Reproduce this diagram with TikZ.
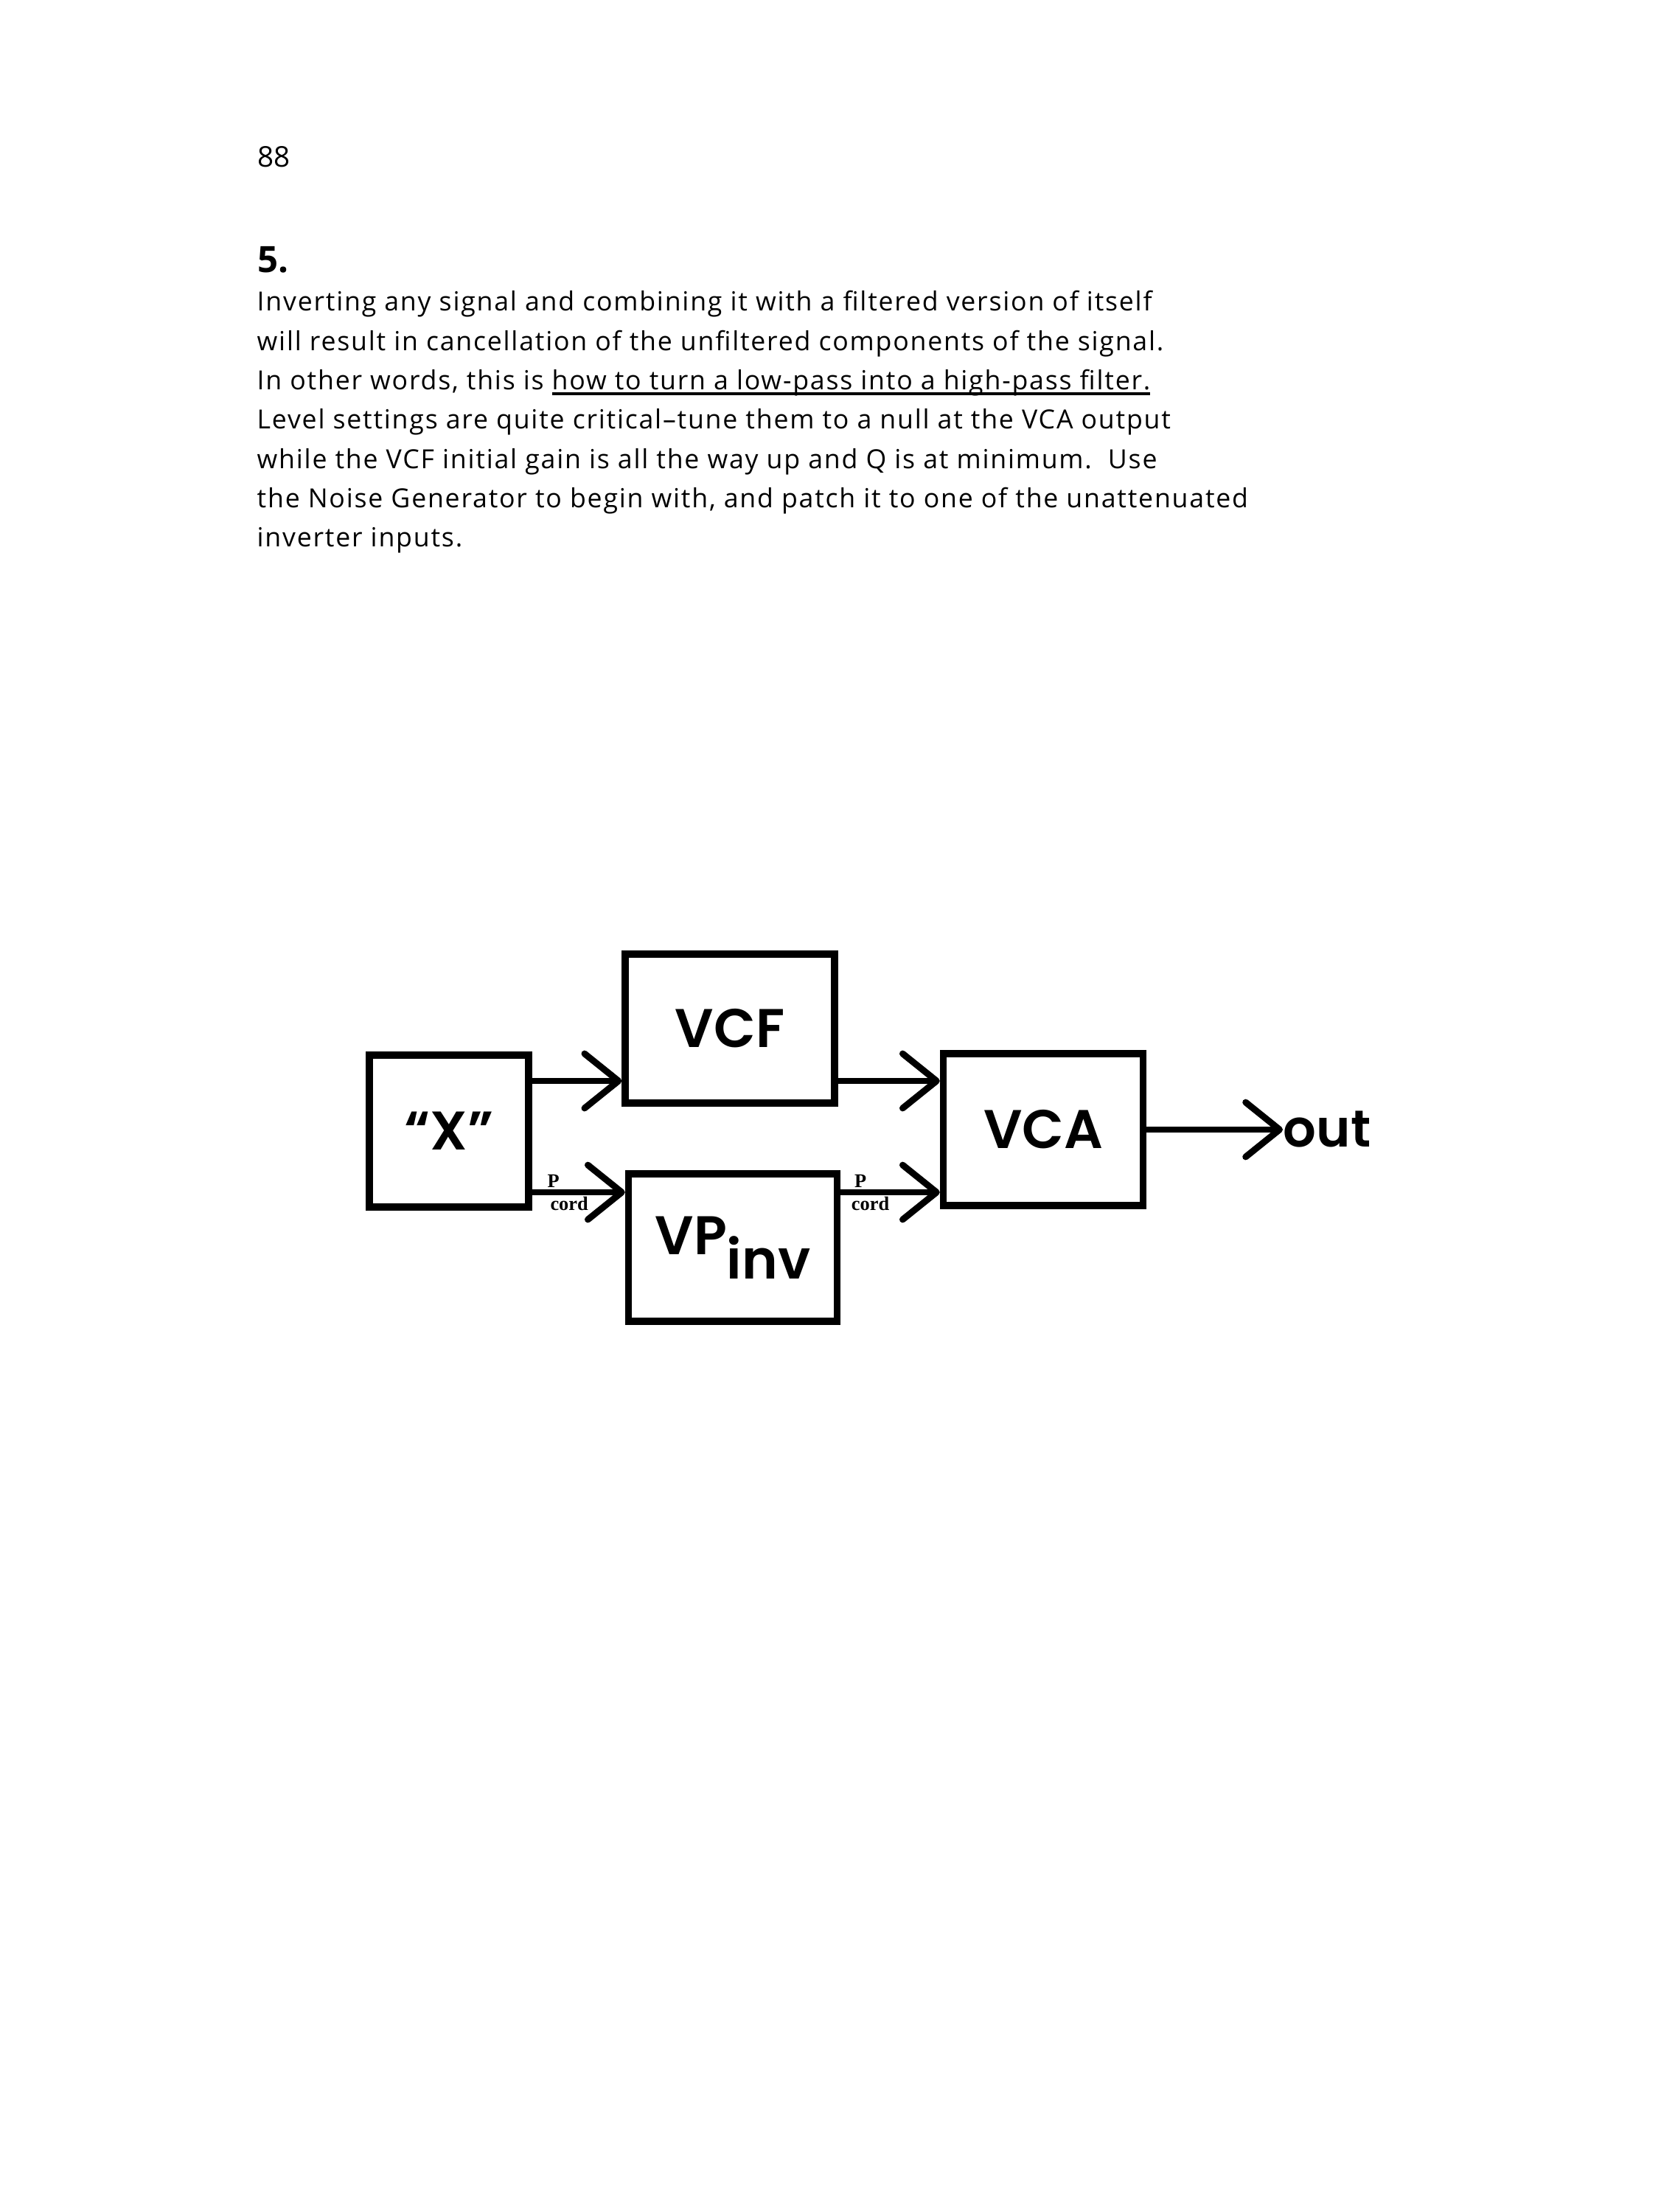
\documentclass[tikz,border=0pt]{standalone}
\usepackage{fontspec}
\setmainfont{Open Sans}
\newfontfamily\bodyfont{Open Sans}[LetterSpace=5]
\newfontfamily\handfont{Poppins}[BoldFont={Poppins SemiBold}]
\newfontfamily\cordfont{Liberation Serif}
\usepackage{tikz}
\usetikzlibrary{arrows.meta}
\newcommand{\ulinetext}[1]{\setbox0\hbox{#1}\rlap{\rule[-2.1pt]{\wd0}{1pt}}\box0}

\begin{document}
\begin{tikzpicture}[
    box/.style={draw, line width=2.7pt, inner sep=0pt, font=\handfont\bfseries\fontsize{21}{24}\selectfont},
    patch/.style={line width=2.5pt, -{Straight Barb[length=4.6mm, width=7.4mm, round]}},
    cordlbl/.style={font=\cordfont\bfseries\fontsize{7.5}{8}\selectfont, inner sep=0.6pt},
    body/.style={anchor=base west, inner sep=0pt, font=\bodyfont\fontsize{10.15}{11}\selectfont}
]
    % Page
    \useasboundingbox (0,0) rectangle (22.52,-30);

    % Page number and item number
    \node[anchor=base west, inner sep=0pt, font=\fontsize{11}{13}\selectfont] (pagenum) at (3.49,-2.27) {88};
    \node[anchor=base west, inner sep=0pt, font=\bfseries\fontsize{14}{15}\selectfont] (itemnum) at (3.49,-3.70) {5.};

    % Body text
    \foreach \i/\txt in {
        1/{Inverting any signal and combining it with a filtered version of itself},
        2/{will result in cancellation of the unfiltered components of the signal.},
        3/{In other words, this is \ulinetext{how to turn a low-pass into a high-pass filter.}},
        4/{Level settings are quite critical–tune them to a null at the VCA output},
        5/{while the VCF initial gain is all the way up and Q is at minimum.\ \ Use},
        6/{the Noise Generator to begin with, and patch it to one of the unattenuated},
        7/{inverter inputs.}} {
        \node[body] (line\i) at (3.48,{-4.22-0.533*(\i-1)}) {\txt};
    }

    % Modules
    \node[box, minimum width=2.16cm, minimum height=2.06cm] (xsrc) at (6.09,-15.34) {“X”};
    \node[box, minimum width=2.84cm, minimum height=2.02cm] (vcf) at (9.90,-13.95) {VCF};
    \node[box, minimum width=2.83cm, minimum height=2.00cm] (vpinv) at (9.94,-16.92) {VP\raisebox{-0.45em}{inv}};
    \node[box, minimum width=2.71cm, minimum height=2.06cm] (vca) at (14.15,-15.32) {VCA};
    \node[anchor=west, inner sep=0pt, font=\handfont\bfseries\fontsize{20}{24}\selectfont] (out) at (17.40,-15.32) {out};

    % Patch cords
    \coordinate (upper) at (0,-14.66);
    \coordinate (lower) at (0,-16.17);
    \draw[patch] (xsrc.east |- upper) -- (vcf.west |- upper);
    \draw[patch] (xsrc.east |- lower) -- (vpinv.west |- lower)
        node[cordlbl, pos=0.23, above] (pa) {P} node[cordlbl, pos=0.40, below] (ca) {cord};
    \draw[patch] (vcf.east |- upper) -- (vca.west |- upper);
    \draw[patch] (vpinv.east |- lower) -- (vca.west |- lower)
        node[cordlbl, pos=0.20, above] (pb) {P} node[cordlbl, pos=0.30, below] (cb) {cord};
    \draw[patch] (vca) -- (out);
\end{tikzpicture}
\end{document}
